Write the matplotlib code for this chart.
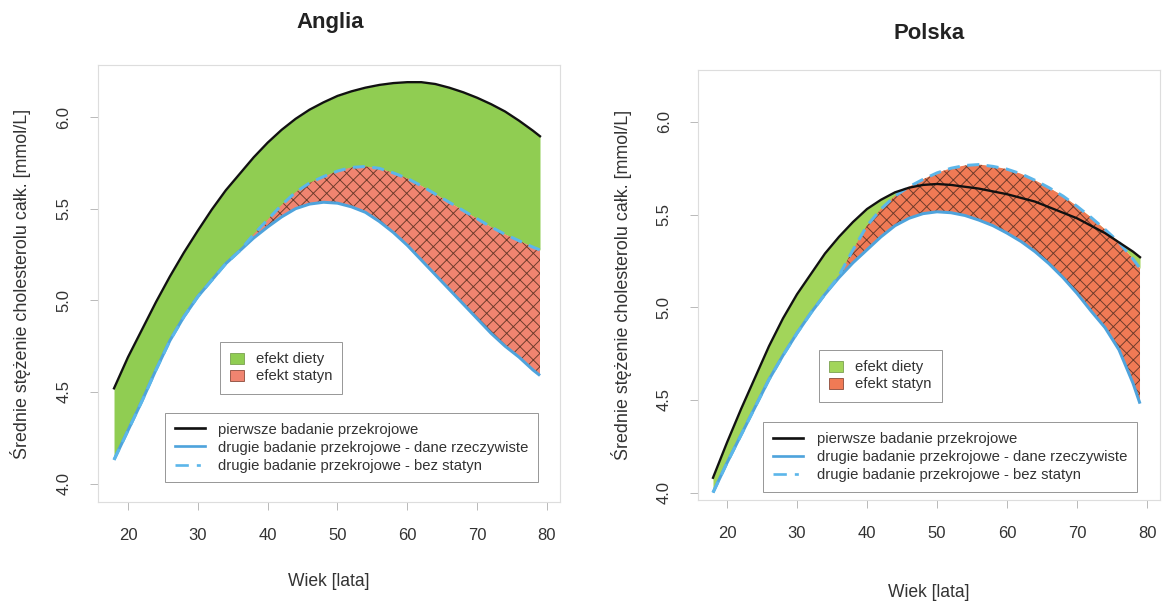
import matplotlib
matplotlib.use("Agg")
import matplotlib.pyplot as plt
from matplotlib.patches import Patch
from matplotlib.lines import Line2D
import numpy as np

plt.rcParams['font.family'] = ['Liberation Sans', 'DejaVu Sans']
plt.rcParams['hatch.color'] = '#6b3a2a'
plt.rcParams['hatch.linewidth'] = 0.55

# wiek [lata]
wiek = [18, 20, 22, 24, 26, 28, 30, 32, 34, 36, 38, 40, 42, 44, 46, 48,
        50, 52, 54, 56, 58, 60, 62, 64, 66, 68, 70, 72, 74, 76, 78, 79]

# Anglia
ang_pierwsze = [4.52, 4.69, 4.84, 4.99, 5.13, 5.26, 5.38, 5.495, 5.60, 5.69, 5.78, 5.86,
                5.93, 5.99, 6.04, 6.08, 6.115, 6.14, 6.16, 6.175, 6.185, 6.19, 6.19, 6.18,
                6.16, 6.135, 6.105, 6.07, 6.03, 5.98, 5.925, 5.895]
ang_drugie = [4.13, 4.29, 4.45, 4.62, 4.78, 4.91, 5.02, 5.11, 5.20, 5.27, 5.34, 5.40,
              5.455, 5.50, 5.525, 5.535, 5.53, 5.51, 5.48, 5.43, 5.37, 5.30, 5.22, 5.14,
              5.06, 4.98, 4.90, 4.82, 4.75, 4.69, 4.62, 4.59]
ang_bez_statyn = [4.13, 4.29, 4.45, 4.62, 4.78, 4.91, 5.02, 5.11, 5.20, 5.27, 5.36, 5.44,
                  5.52, 5.59, 5.64, 5.675, 5.705, 5.725, 5.73, 5.72, 5.695, 5.665, 5.625, 5.58,
                  5.535, 5.49, 5.445, 5.40, 5.36, 5.325, 5.29, 5.275]

# Polska
pol_pierwsze = [4.08, 4.27, 4.45, 4.62, 4.79, 4.94, 5.07, 5.18, 5.29, 5.38, 5.46, 5.53,
                5.58, 5.62, 5.645, 5.66, 5.665, 5.66, 5.65, 5.64, 5.625, 5.61, 5.59, 5.57,
                5.54, 5.51, 5.48, 5.44, 5.40, 5.35, 5.30, 5.27]
pol_drugie = [4.00, 4.16, 4.31, 4.46, 4.61, 4.74, 4.86, 4.97, 5.07, 5.16, 5.24, 5.31,
              5.38, 5.44, 5.48, 5.505, 5.515, 5.51, 5.495, 5.47, 5.44, 5.40, 5.355, 5.30,
              5.235, 5.16, 5.075, 4.98, 4.89, 4.77, 4.59, 4.48]
pol_bez_statyn = [4.00, 4.16, 4.31, 4.46, 4.61, 4.74, 4.86, 4.97, 5.07, 5.17, 5.31, 5.44,
                  5.53, 5.60, 5.65, 5.69, 5.725, 5.75, 5.765, 5.77, 5.76, 5.745, 5.72, 5.685,
                  5.645, 5.60, 5.545, 5.485, 5.42, 5.35, 5.26, 5.21]

x_ticks = [20, 30, 40, 50, 60, 70, 80]
y_ticks = [4.0, 4.5, 5.0, 5.5, 6.0]

kolor_czarny = '#111111'
kolor_niebieski = '#4ea3dc'
kolor_przerywany = '#5cb6ea'

fig = plt.figure(figsize=(1162 / 120, 603 / 120), dpi=120)

panele = [
    dict(tytul='Anglia', pos=[0.0843, 0.1675, 0.3976, 0.7245], xlim=(15.7, 81.86), ylim=(3.90, 6.283),
         a=ang_pierwsze, b=ang_drugie, c=ang_bez_statyn, zielony='#90cd52', czerwony='#f08470',
         tytul_xy=(0.284, 0.963), ylab_x=-0.145, xlab_y=-0.162,
         leg1=(0.264, 0.366), leg2=(0.145, 0.204)),
    dict(tytul='Polska', pos=[0.6007, 0.1708, 0.3976, 0.7131], xlim=(15.86, 81.86), ylim=(3.96, 6.28),
         a=pol_pierwsze, b=pol_drugie, c=pol_bez_statyn, zielony='#a2d55a', czerwony='#f07a55',
         tytul_xy=(0.800, 0.945), ylab_x=-0.142, xlab_y=-0.195,
         leg1=(0.262, 0.349), leg2=(0.141, 0.181)),
]

for p in panele:
    ax = fig.add_axes(p['pos'])
    a = np.array(p['a'])
    b = np.array(p['b'])
    c = np.array(p['c'])

    ax.fill_between(wiek, a, c, color=p['zielony'], linewidth=0)
    ax.fill_between(wiek, c, b, facecolor=p['czerwony'], edgecolor='#6b3a2a',
                    hatch='xxx', linewidth=0)
    ax.plot(wiek, b, color=kolor_niebieski, lw=1.8, solid_capstyle='butt')
    ax.plot(wiek, c, color=kolor_przerywany, lw=1.8, dashes=(4, 2.5))
    ax.plot(wiek, a, color=kolor_czarny, lw=1.4)

    ax.set_xlim(p['xlim'])
    ax.set_ylim(p['ylim'])
    ax.set_xticks(x_ticks)
    ax.set_yticks(y_ticks)
    ax.set_yticklabels([f'{v:.1f}' for v in y_ticks], rotation=90, va='center')
    ax.tick_params(length=4.8, width=0.6, color='#bbbbbb', labelsize=10,
                   labelcolor='#333333', pad=11)
    for s in ax.spines.values():
        s.set_color('#dddddd')
        s.set_linewidth(0.7)

    ax.set_xlabel('Wiek [lata]', fontsize=10.5, color='#333333')
    ax.xaxis.set_label_coords(0.5, p['xlab_y'])
    ax.set_ylabel('Średnie stężenie cholesterolu całk. [mmol/L]', fontsize=10.7, color='#333333')
    ax.yaxis.set_label_coords(p['ylab_x'], 0.5)

    fig.text(p['tytul_xy'][0], p['tytul_xy'][1], p['tytul'], fontsize=13.3,
             fontweight='bold', ha='center', va='center', color='#222222')

    h1 = [Patch(facecolor=p['zielony'], edgecolor='#7aa050', lw=0.5),
          Patch(facecolor=p['czerwony'], edgecolor='#8a4a3a', lw=0.5)]
    leg1 = ax.legend(h1, ['efekt diety', 'efekt statyn'], loc='upper left',
                     bbox_to_anchor=p['leg1'], borderaxespad=0, fontsize=8.9,
                     handlelength=0.9, handleheight=0.75, handletextpad=0.8,
                     borderpad=0.7, labelspacing=0.2, fancybox=False,
                     edgecolor='#999999', framealpha=1)
    leg1.get_frame().set_linewidth(0.6)
    for t in leg1.get_texts():
        t.set_color('#333333')
    ax.add_artist(leg1)

    h2 = [Line2D([], [], color=kolor_czarny, lw=1.6),
          Line2D([], [], color=kolor_niebieski, lw=1.6),
          Line2D([], [], color=kolor_przerywany, lw=1.6, dashes=(5, 3, 1.5, 3))]
    leg2 = ax.legend(h2, ['pierwsze badanie przekrojowe',
                          'drugie badanie przekrojowe - dane rzeczywiste',
                          'drugie badanie przekrojowe - bez statyn'],
                     loc='upper left', bbox_to_anchor=p['leg2'], borderaxespad=0,
                     fontsize=8.9, handlelength=2.05, handletextpad=0.9,
                     borderpad=0.65, labelspacing=0.28, fancybox=False,
                     edgecolor='#999999', framealpha=1)
    leg2.get_frame().set_linewidth(0.6)
    for t in leg2.get_texts():
        t.set_color('#333333')

fig.savefig('out.png', dpi=120, facecolor='white')
